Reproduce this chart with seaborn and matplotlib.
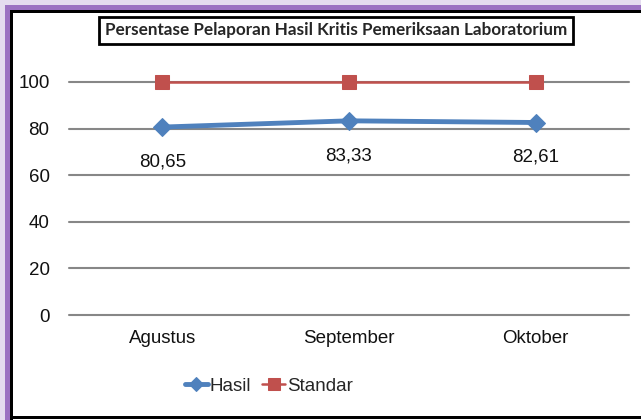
import matplotlib
matplotlib.use("Agg")
import matplotlib.pyplot as plt
from matplotlib.patches import Rectangle
import seaborn as sns
import pandas as pd

bulan = ["Agustus", "September", "Oktober"]
hasil = [80.65, 83.33, 82.61]
standar = [100, 100, 100]
label_hasil = ["80,65", "83,33", "82,61"]
y_ticks = [0, 20, 40, 60, 80, 100]

df = pd.DataFrame({"bulan": bulan, "Hasil": hasil, "Standar": standar})

sns.set_theme(style="white")
plt.rcParams["font.family"] = ["Liberation Sans", "DejaVu Sans"]

fig = plt.figure(figsize=(6.41, 4.20), dpi=100)
ax = fig.add_axes([0.1076, 0.25, 0.8736, 0.5548])

# frame around the chart (purple band + black border)
W, H = 641, 420
def px_rect(x0, y0, x1, y1, color):
    fig.patches.append(Rectangle((x0 / W, 1 - y1 / H), (x1 - x0) / W, (y1 - y0) / H,
                                 transform=fig.transFigure, facecolor=color,
                                 edgecolor="none", zorder=-5))
px_rect(0, 0, W, 5, "#e4dcef")
px_rect(0, 0, 5, H, "#e4dcef")
px_rect(5, 5, W, 10, "#9b72c2")
px_rect(5, 5, 10, H, "#9b72c2")
px_rect(10, 10, W, 13, "#000000")
px_rect(10, 10, 13, H, "#000000")
px_rect(10, 416, W, 419, "#000000")

for yv in y_ticks:
    ax.axhline(yv, color="#878787", lw=1.5, zorder=0)

sns.lineplot(data=df, x="bulan", y="Hasil", sort=False, ax=ax, color="#4f81bd",
             lw=3.5, marker="D", markersize=9, markeredgecolor="#4f81bd", label="Hasil")
sns.lineplot(data=df, x="bulan", y="Standar", sort=False, ax=ax, color="#c0504d",
             lw=1.8, marker="s", markersize=10, markeredgecolor="#c0504d", label="Standar")

for i, (v, t) in enumerate(zip(hasil, label_hasil)):
    ax.annotate(t, (i, v), xytext=(0, -25), textcoords="offset points",
                ha="center", va="center", fontsize=13.5, color="#111111")

ax.set_xlim(-0.5, 2.5)
ax.set_ylim(0, 100)
ax.set_yticks(y_ticks)
ax.set_xlabel("")
ax.set_ylabel("")
ax.tick_params(axis="both", length=0, labelsize=13.5, colors="#111111")
ax.tick_params(axis="x", pad=11)
ax.tick_params(axis="y", pad=14)
for s in ax.spines.values():
    s.set_visible(False)
ax.set_facecolor("none")
for ln in ax.lines:
    ln.set_clip_on(False)

leg = ax.legend(loc="center", bbox_to_anchor=(0.357, (315 - 386) / 233),
                ncol=2, frameon=False, fontsize=13.5, handlelength=1.2, handletextpad=0.1,
                columnspacing=0.6, markerscale=0.8)

fig.text(0.524, 1 - 30.5 / H, "Persentase Pelaporan Hasil Kritis Pemeriksaan Laboratorium",
         ha="center", va="center", fontsize=12.3, family=["Lato", "DejaVu Sans"],
         fontweight="bold",
         bbox=dict(boxstyle="square,pad=0.35", facecolor="white", edgecolor="black", lw=2))

fig.savefig("out.png", dpi=100)
